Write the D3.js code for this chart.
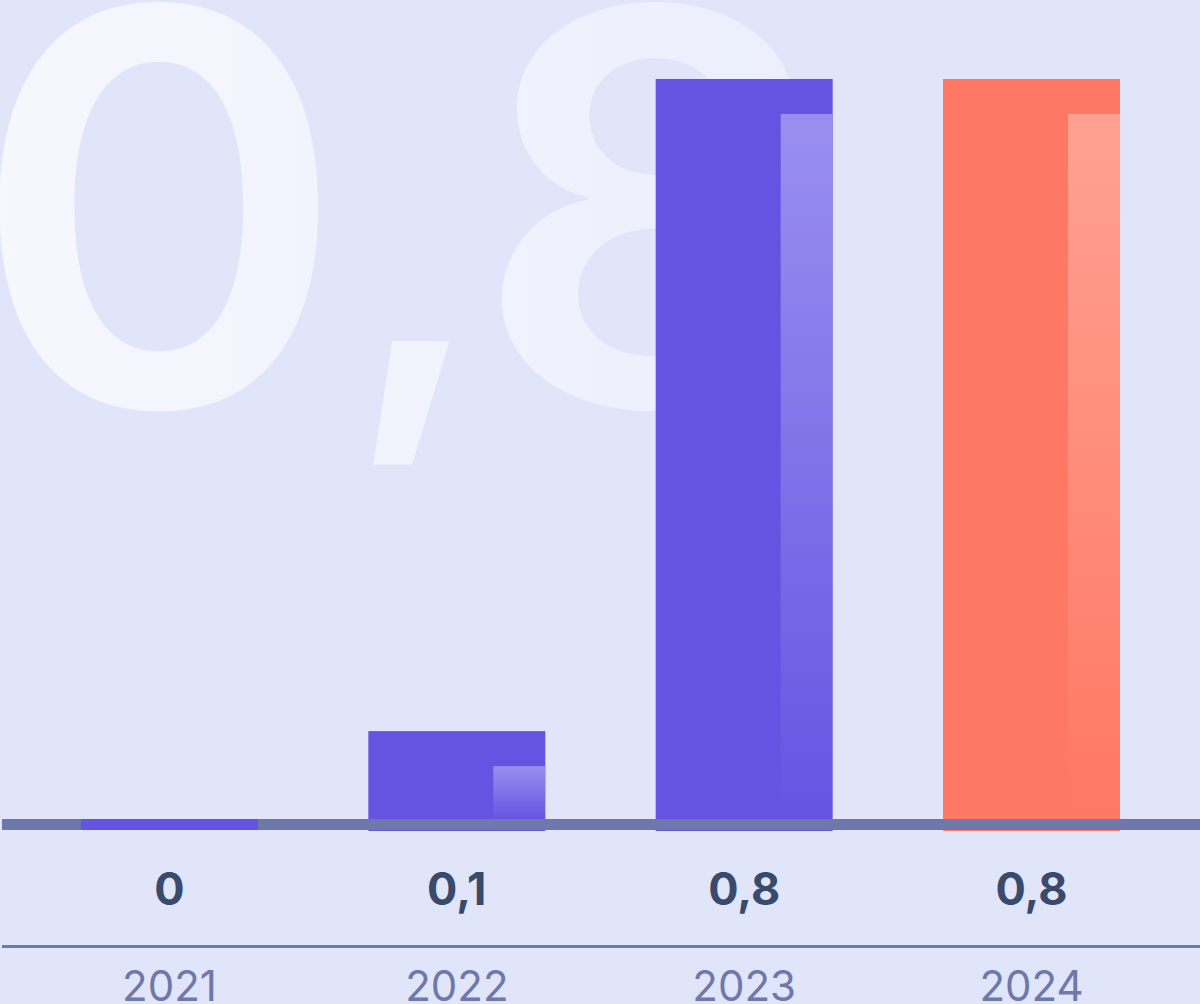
<!DOCTYPE html>
<html>
<head>
<meta charset="utf-8">
<script src="https://cdn.jsdelivr.net/npm/d3@7"></script>
<style>
  html, body { margin: 0; padding: 0; background: #e1e5fa; overflow: hidden; }
  svg { display: block; }
</style>
</head>
<body>
<div id="chart"></div>
<script>
// ---- data ----
const years = ["2021", "2022", "2023", "2024"];
const values = [0, 0.095, 0.8, 0.8];
const barColors = ["#6355e2", "#6355e2", "#6355e2", "#ff7863"];
const highlightColors = ["#9a8ff0", "#9a8ff0", "#9a8ff0", "#ffa192"];
const bigLabelParts = ["0", ",", "8"];

const W = 1200, H = 1004;
const svg = d3.select("#chart").append("svg").attr("width", W).attr("height", H);

svg.append("rect").attr("width", W).attr("height", H).attr("fill", "#e1e5fa");

const defs = svg.append("defs");
const tg = defs.append("linearGradient").attr("id", "bigTextGrad")
  .attr("gradientUnits", "userSpaceOnUse").attr("x1", 0).attr("x2", 790).attr("y1", 0).attr("y2", 0);
tg.append("stop").attr("offset", "0%").attr("stop-color", "#ffffff").attr("stop-opacity", 0.72);
tg.append("stop").attr("offset", "100%").attr("stop-color", "#ffffff").attr("stop-opacity", 0.35);

highlightColors.forEach((c, i) => {
  const g = defs.append("linearGradient").attr("id", "hl" + i)
    .attr("x1", 0).attr("x2", 0).attr("y1", 0).attr("y2", 1);
  g.append("stop").attr("offset", "0%").attr("stop-color", c).attr("stop-opacity", 1);
  g.append("stop").attr("offset", "100%").attr("stop-color", c).attr("stop-opacity", 0);
});

// big background number
const big = svg.append("g").attr("transform", "scale(1.04,1)").append("text")
  .attr("y", 406)
  .attr("font-family", "Inter, 'Noto Sans', sans-serif")
  .attr("font-size", 548)
  .attr("font-weight", 600)
  .attr("fill", "url(#bigTextGrad)");
big.append("tspan").attr("x", -28).text(bigLabelParts[0]);
big.append("tspan").attr("x", 334).attr("dy", -20).attr("font-size", 420).text(bigLabelParts[1]);
big.append("tspan").attr("x", 455).attr("dy", 20).text(bigLabelParts[2]);

// scales
const x = d3.scaleBand().domain(years).range([25.8, 1175.2]).paddingInner(0.384).paddingOuter(0.192);
const baseY = 819;
const y = d3.scaleLinear().domain([0, 0.8]).range([baseY, 79]);
const hlOffset = 35;
const hlWidth = 52;

const data = years.map((yr, i) => ({ yr, v: values[i], c: barColors[i], i }));

// bars
const bars = svg.append("g");
bars.selectAll("rect.bar").data(data.filter(d => d.v > 0)).join("rect")
  .attr("class", "bar")
  .attr("x", d => x(d.yr)).attr("width", x.bandwidth())
  .attr("y", d => y(d.v)).attr("height", d => baseY + 12 - y(d.v))
  .attr("fill", d => d.c);
bars.selectAll("rect.hl").data(data.filter(d => d.v > 0)).join("rect")
  .attr("class", "hl")
  .attr("x", d => x(d.yr) + x.bandwidth() - hlWidth).attr("width", hlWidth)
  .attr("y", d => y(d.v) + hlOffset).attr("height", d => baseY - y(d.v) - hlOffset)
  .attr("fill", d => `url(#hl${d.i})`);

// baseline
svg.append("rect").attr("x", 2).attr("y", baseY).attr("width", W - 2).attr("height", 11).attr("fill", "#6e78aa");

// zero-value stubs
svg.append("g").selectAll("rect").data(data.filter(d => d.v === 0)).join("rect")
  .attr("x", d => x(d.yr)).attr("width", x.bandwidth())
  .attr("y", baseY).attr("height", 11).attr("fill", d => d.c);

// value labels
const fmt = v => v === 0 ? "0" : d3.format(".1f")(v).replace(".", ",");
svg.append("g").selectAll("text").data(data).join("text")
  .attr("x", d => x(d.yr) + x.bandwidth() / 2).attr("y", 905)
  .attr("text-anchor", "middle")
  .attr("font-family", "Inter, 'Noto Sans', sans-serif")
  .attr("font-size", 45).attr("font-weight", 700)
  .attr("fill", "#3a4a6b")
  .text(d => fmt(d.v));

// separator
svg.append("rect").attr("x", 2).attr("y", 945).attr("width", W - 2).attr("height", 3).attr("fill", "#6e78aa");

// year axis
const axis = d3.axisBottom(x).tickSize(0).tickPadding(0);
const ag = svg.append("g").attr("transform", "translate(0,971)").call(axis);
ag.select(".domain").remove();
ag.selectAll("text")
  .attr("dy", "0.71em")
  .attr("font-family", "Inter, 'Noto Sans', sans-serif")
  .attr("font-size", 42).attr("font-weight", 400)
  .attr("fill", "#6e78aa");
</script>
</body>
</html>
